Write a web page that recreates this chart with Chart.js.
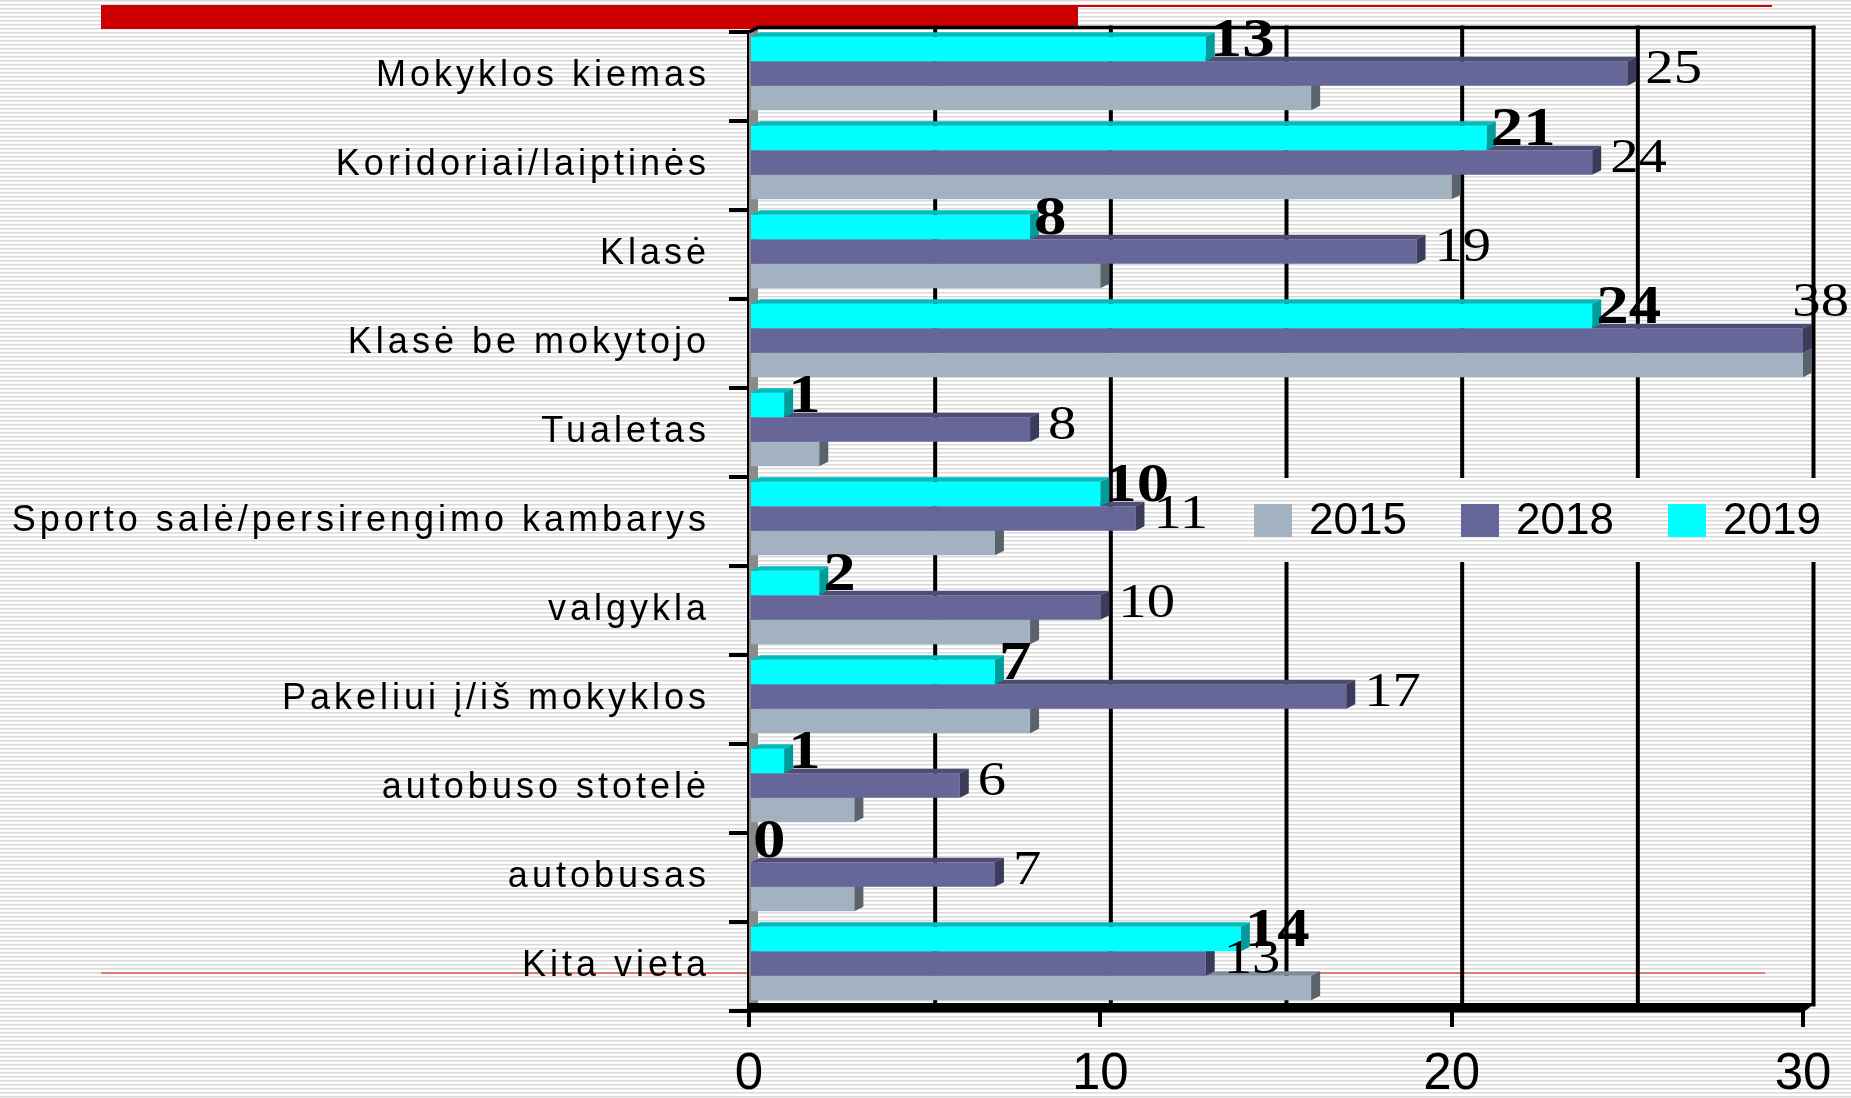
<!DOCTYPE html>
<html><head><meta charset="utf-8">
<script src="https://cdn.jsdelivr.net/npm/chart.js@4.4.1/dist/chart.umd.min.js"></script>
<style>html,body{margin:0;padding:0;background:#fff;overflow:hidden}canvas{display:block}</style>
</head><body>
<canvas id="c" width="1851" height="1098" style="width:1851px;height:1098px"></canvas>
<script>
// ---------- DATA ----------
const categories = ['Mokyklos kiemas','Koridoriai/laiptinės','Klasė','Klasė be mokytojo','Tualetas','Sporto salė/persirengimo kambarys','valgykla','Pakeliui į/iš mokyklos','autobuso stotelė','autobusas','Kita vieta'];
const seriesLabels = ['2015','2018','2019'];
const values2015 = [16,20,10,30,2,7,8,8,3,3,16];
const values2018 = [25,24,19,38,8,11,10,17,6,7,13];
const values2019 = [13,21,8,24,1,10,2,7,1,0,14];
const xTickValues = [0,10,20,30];
const xGridValues = [5,10,15,20,25,30];

// ---------- STYLE ----------
const DX = 9, DY = 4.5, BAR_SHIFT = -3;
const faces = {
  '2015': {front:'#A3B2C1', top:'#7F8B97', side:'#5A636C'},
  '2018': {front:'#666699', top:'#4E4E75', side:'#3B3B5C'},
  '2019': {front:'#00FFFF', top:'#00BDBD', side:'#009C9C'}
};
const labelStyles = {
  '2018': {font:'48px "Liberation Serif", "Times New Roman", serif', dx: DX + 9, dy: -3},
  '2019': {font:'bold 55px "Liberation Serif", "Times New Roman", serif', dx: 4, dy: -7}
};
const LABEL_SX = 1.18;

function stripePattern(ctx){
  const p = document.createElement('canvas'); p.width = 8; p.height = 4;
  const g = p.getContext('2d');
  g.fillStyle = '#ffffff'; g.fillRect(0,0,8,4);
  g.fillStyle = '#d9d9d9'; g.fillRect(0,0,8,1);
  g.fillStyle = '#ececec'; g.fillRect(0,1,8,1);
  return ctx.createPattern(p,'repeat');
}

const bgPlugin = {
  id:'bg',
  beforeDraw(chart){
    const c = chart.ctx; c.save();
    c.fillStyle = stripePattern(c); c.fillRect(0,0,chart.width,chart.height);
    c.fillStyle = '#CC0000'; c.fillRect(101,5,977,24);
    c.fillRect(1078,5,694,2);
    c.fillStyle = '#E27A7A'; c.fillRect(101,972,1664,2);
    c.restore();
  },
  afterLayout(chart){
    const s = chart.scales.y;
    if (s && !s.__ls){
      const orig = s.drawLabels;
      s.drawLabels = function(area){ const c = this.ctx; c.save(); c.letterSpacing = '4px'; orig.call(this, area); c.restore(); };
      s.__ls = true;
    }
  }
};

const wallPlugin = {
  id:'wall',
  beforeDatasetsDraw(chart){
    const c = chart.ctx, a = chart.chartArea, xs = chart.scales.x;
    c.save();
    c.fillStyle = '#8a8a8a';
    c.beginPath(); c.moveTo(a.left,a.top); c.lineTo(a.left+DX,a.top-DY); c.lineTo(a.left+DX,a.bottom-DY); c.lineTo(a.left,a.bottom); c.closePath(); c.fill();
    c.strokeStyle = '#000'; c.lineWidth = 4;
    for (const v of xGridValues){
      const x = xs.getPixelForValue(v) + DX + 1.5;
      c.beginPath(); c.moveTo(x, a.top-DY-2); c.lineTo(x, a.bottom-DY); c.stroke();
    }
    const xr = xs.getPixelForValue(xs.max) + DX + 3.5;
    c.lineWidth = 3.5;
    c.beginPath(); c.moveTo(a.left, a.top); c.lineTo(a.left+DX, a.top-DY); c.lineTo(xr, a.top-DY); c.stroke();
    c.fillStyle = '#000';
    c.beginPath(); c.moveTo(a.left-2, a.bottom+1.5); c.lineTo(a.right, a.bottom+1.5); c.lineTo(xr, a.bottom-8); c.lineTo(a.left-2, a.bottom-8); c.closePath(); c.fill();
    c.restore();
    // bars are drawn slightly raised inside their band (3D depth)
    c.save(); c.translate(0, BAR_SHIFT);
  },
  afterDatasetDraw(chart, args){
    const c = chart.ctx, a = chart.chartArea;
    const ds = chart.data.datasets[args.index];
    const f = faces[ds.label];
    c.save();
    c.beginPath(); c.rect(a.left, a.top-DY-1, a.right-a.left+DX+1, a.bottom-a.top+DY+1); c.clip();
    args.meta.data.forEach((el,i)=>{
      const v = ds.data[i]; if (!v) return;
      const p = el.getProps(['x','y','base','height'], true);
      const x0 = p.base, x1 = Math.min(p.x, a.right);
      const t = p.y - p.height/2, b = p.y + p.height/2;
      c.fillStyle = f.top;
      c.beginPath(); c.moveTo(x0,t); c.lineTo(x1,t); c.lineTo(x1+DX,t-DY); c.lineTo(x0+DX,t-DY); c.closePath(); c.fill();
      c.fillStyle = f.side;
      c.beginPath(); c.moveTo(x1,t); c.lineTo(x1+DX,t-DY); c.lineTo(x1+DX,b-DY); c.lineTo(x1,b); c.closePath(); c.fill();
    });
    c.restore();
  },
  afterDatasetsDraw(chart){
    const c = chart.ctx, a = chart.chartArea;
    c.restore(); // undo BAR_SHIFT
    // legend
    c.save();
    c.fillStyle = stripePattern(c); c.fillRect(1232, 478, 613, 84);
    const order = chart.data.datasets.slice().reverse();
    order.forEach((ds,k)=>{
      const x = 1254 + k*207;
      c.fillStyle = ds.backgroundColor; c.fillRect(x, 504, 38, 33);
      c.fillStyle = '#000'; c.font = '44px "Liberation Sans", Arial, sans-serif';
      c.textBaseline = 'middle'; c.textAlign = 'left';
      c.fillText(ds.label, x + 55, 522);
    });
    c.restore();
    // data labels
    ['2018','2019'].forEach(lbl=>{
      const idx = chart.data.datasets.findIndex(d=>d.label===lbl);
      const ds = chart.data.datasets[idx], meta = chart.getDatasetMeta(idx), st = labelStyles[lbl];
      meta.data.forEach((el,i)=>{
        const txt = String(ds.data[i]);
        let x = Math.min(el.x, a.right) + st.dx, y = el.y + BAR_SHIFT + st.dy;
        c.save(); c.font = st.font;
        const w = c.measureText(txt).width * LABEL_SX;
        if (x + w > chart.width - 2){ x = chart.width - 2 - w; y -= 34; }
        c.translate(x, y); c.scale(LABEL_SX, 1);
        c.fillStyle = '#000'; c.textBaseline = 'middle'; c.textAlign = 'left';
        c.fillText(txt, 0, 0);
        c.restore();
      });
    });
  }
};

const mk = (lbl, data) => ({label: lbl, data: data, backgroundColor: faces[lbl].front, borderWidth: 0, categoryPercentage: 0.826, barPercentage: 1.0});

new Chart(document.getElementById('c'), {
  type: 'bar',
  data: {
    labels: categories,
    datasets: [mk('2019', values2019), mk('2018', values2018), mk('2015', values2015)]
  },
  options: {
    indexAxis: 'y',
    responsive: false,
    animation: false,
    devicePixelRatio: 1,
    layout: {padding: {top: 32, right: 48, left: 0, bottom: 0}},
    plugins: {legend: {display: false}, tooltip: {enabled: false}},
    scales: {
      x: {
        min: 0, max: 30,
        afterBuildTicks(s){ s.ticks = xTickValues.map(v=>({value:v})); },
        afterFit(s){ s.height = 87; s.paddingLeft = 0; s.paddingRight = 0; },
        ticks: {font: {family: '"Liberation Sans", Arial, sans-serif', size: 51}, color: '#000', padding: 17, maxRotation: 0},
        grid: {drawOnChartArea: false, drawTicks: true, tickLength: 16, color: '#000', lineWidth: 4},
        border: {display: false}
      },
      y: {
        afterFit(s){ s.width = 749; s.paddingTop = 0; s.paddingBottom = 0; },
        ticks: {font: {family: '"Liberation Sans", Arial, sans-serif', size: 36}, color: '#000', padding: 19, autoSkip: false},
        grid: {drawOnChartArea: false, drawTicks: true, tickLength: 20, color: '#000', lineWidth: 4},
        border: {display: true, color: '#000', width: 4}
      }
    }
  },
  plugins: [bgPlugin, wallPlugin]
});
</script>
</body></html>
